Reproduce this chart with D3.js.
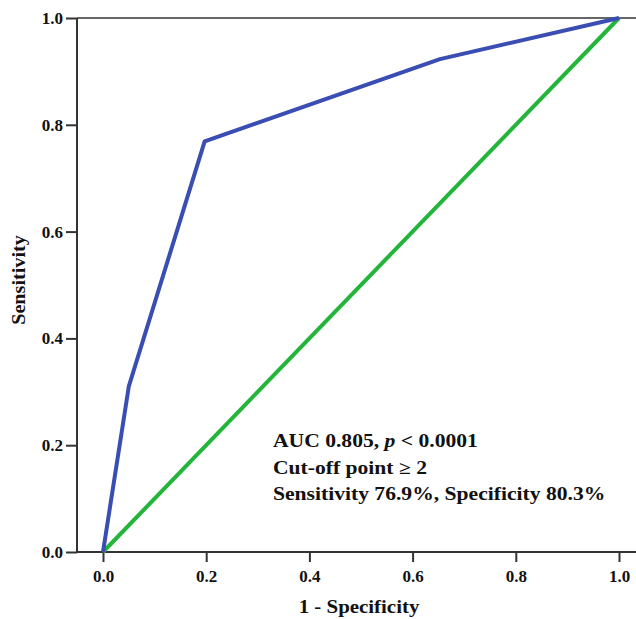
<!DOCTYPE html>
<html>
<head>
<meta charset="utf-8">
<script src="https://cdn.jsdelivr.net/npm/d3@7"></script>
<style>
  body { margin: 0; background: #fff; }
  text { font-family: "Liberation Serif", "Times New Roman", serif; font-weight: bold; fill: #111; }
</style>
</head>
<body>
<svg id="chart" width="636" height="619"></svg>
<script>
"use strict";

// ROC curve points (1 - specificity, sensitivity)
const rocFpr = [0, 0.05, 0.197, 0.653, 1];
const rocTpr = [0, 0.31, 0.769, 0.923, 1];
// reference diagonal
const refLine = [0, 1];
const tickValues = [0, 0.2, 0.4, 0.6, 0.8, 1.0];
const notes = ["AUC 0.805, ", "Cut-off point \u2265 2", "Sensitivity 76.9%, Specificity 80.3%"];

const svg = d3.select("#chart");
const plotLeft = 77, plotTop = 18, plotBottom = 552, plotRight = 636;

const x = d3.scaleLinear().domain([0, 1]).range([103, 619]);
const y = d3.scaleLinear().domain([0, 1]).range([plotBottom, plotTop]);

// frame: top line + axes
svg.append("line")
    .attr("x1", plotLeft).attr("x2", plotRight)
    .attr("y1", plotTop).attr("y2", plotTop)
    .attr("stroke", "#666").attr("stroke-width", 2);

const xAxis = svg.append("g")
    .attr("transform", `translate(0,${plotBottom})`)
    .call(d3.axisBottom(x).tickValues(tickValues).tickFormat(d3.format(".1f")).tickSize(10).tickPadding(8));
xAxis.select(".domain").remove();
xAxis.append("line")
    .attr("x1", plotLeft).attr("x2", plotRight)
    .attr("stroke", "#333").attr("stroke-width", 2);

const yAxis = svg.append("g")
    .attr("transform", `translate(${plotLeft},0)`)
    .call(d3.axisLeft(y).tickValues(tickValues).tickFormat(d3.format(".1f")).tickSize(11).tickPadding(3));
yAxis.select(".domain").remove();
yAxis.append("line")
    .attr("y1", plotTop).attr("y2", plotBottom)
    .attr("stroke", "#333").attr("stroke-width", 2);

svg.selectAll(".tick line").attr("stroke", "#333").attr("stroke-width", 2);
svg.selectAll(".tick text")
    .style("font-family", "'Liberation Serif', serif")
    .style("font-weight", "bold")
    .style("font-size", "17px")
    .attr("fill", "#111");

// diagonal
svg.append("path")
    .datum(refLine)
    .attr("d", d3.line().x(d => x(d)).y(d => y(d)))
    .attr("fill", "none")
    .attr("stroke", "#22b53a")
    .attr("stroke-width", 4);

// ROC curve
svg.append("path")
    .datum(d3.zip(rocFpr, rocTpr))
    .attr("d", d3.line().x(d => x(d[0])).y(d => y(d[1])))
    .attr("fill", "none")
    .attr("stroke", "#3a4db3")
    .attr("stroke-width", 4)
    .attr("stroke-linejoin", "round");

// axis titles
svg.append("text")
    .attr("transform", "translate(359,613) scale(1.1,1)")
    .attr("text-anchor", "middle")
    .style("font-size", "19px")
    .text("1 - Specificity");

svg.append("text")
    .attr("transform", "translate(25,280) rotate(-90) scale(1.12,1)")
    .attr("text-anchor", "middle")
    .style("font-size", "18px")
    .text("Sensitivity");

// annotation (the source image is stretched horizontally)
const note = svg.append("g")
    .attr("transform", "translate(273,0) scale(1.2,1)")
    .style("font-size", "18px");
const t0 = note.append("text").attr("x", 0).attr("y", 447);
t0.append("tspan").text(notes[0]);
t0.append("tspan").style("font-style", "italic").text("p");
t0.append("tspan").text(" < 0.0001");
note.append("text").attr("x", 0).attr("y", 474).text(notes[1]);
note.append("text").attr("x", 0).attr("y", 500).text(notes[2]);
</script>
</body>
</html>
